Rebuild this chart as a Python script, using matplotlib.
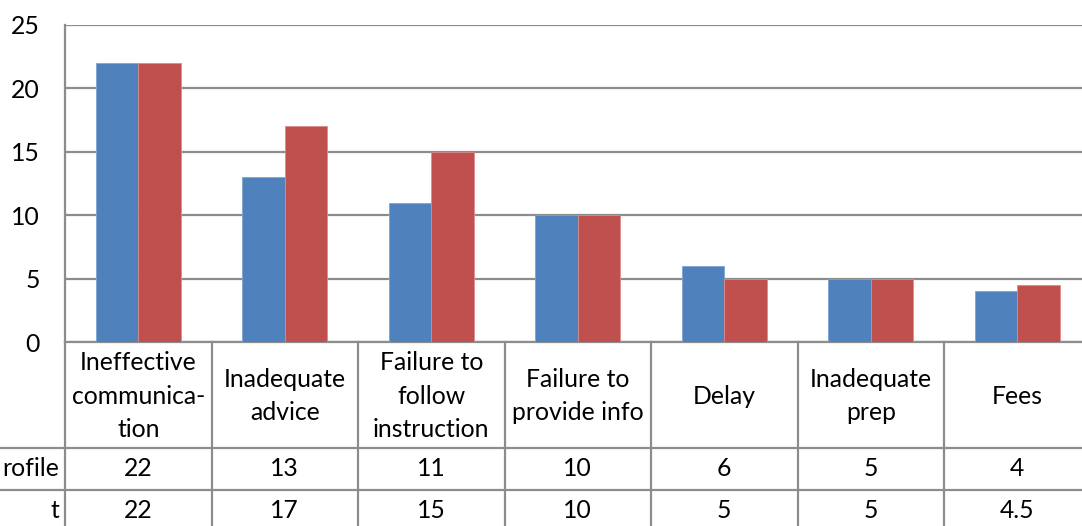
import matplotlib.pyplot as plt
import matplotlib.transforms as mtransforms

plt.rcParams['font.family'] = ['Lato', 'DejaVu Sans']

# data
categories = ["Ineffective\ncommunica-\ntion", "Inadequate\nadvice",
              "Failure to\nfollow\ninstruction", "Failure to\nprovide info",
              "Delay", "Inadequate\nprep", "Fees"]
series_names = ["rofile", "t"]
series_a = [22, 13, 11, 10, 6, 5, 4]
series_b = [22, 17, 15, 10, 5, 5, 4.5]
y_ticks = [0, 5, 10, 15, 20, 25]

blue = "#4F81BD"
red = "#C0504D"
grid_c = "#8C8C8C"
fs = 17.8

W, H = 1082, 526
fig = plt.figure(figsize=(W / 100, H / 100), dpi=100)
left_px, top_px, bottom_px = 65, 25, 342
cat_w = 146.5
ax_w = cat_w * len(categories)
ax = fig.add_axes([left_px / W, 1 - bottom_px / H, ax_w / W, (bottom_px - top_px) / H])

x = list(range(len(categories)))
bw = 0.29
ax.bar([i - bw / 2 for i in x], series_a, width=bw, color=blue, edgecolor="#7FA3CF", linewidth=0.6, zorder=3)
ax.bar([i + bw / 2 for i in x], series_b, width=bw, color=red, edgecolor="#D98C8A", linewidth=0.6, zorder=3)

ax.set_xlim(-0.5, len(categories) - 0.5)
ax.set_ylim(0, 25)
ax.set_yticks(y_ticks)
ax.set_xticks([])
ax.tick_params(axis="y", length=0, pad=18, labelsize=fs)
ax.yaxis.grid(True, color=grid_c, linewidth=1.6)
for s in ["top", "right", "bottom"]:
    ax.spines[s].set_visible(False)
ax.spines["left"].set_color(grid_c)
ax.spines["left"].set_linewidth(1.6)

# data table below the plot
tr = mtransforms.blended_transform_factory(ax.transData, ax.transAxes)
h = bottom_px - top_px
def yfrac(py):
    return (bottom_px - py) / h

lw = 1.6
row_edges = [342, 448, 490, 532]
# horizontal lines
ax.plot([-0.5, len(categories) - 0.5], [0, 0], transform=tr, color=grid_c, lw=lw, clip_on=False)
for py in row_edges[1:]:
    ax.plot([-0.5 - left_px / cat_w, len(categories) - 0.5], [yfrac(py)] * 2, transform=tr,
            color=grid_c, lw=lw, clip_on=False)
# vertical lines
for i in range(len(categories) + 1):
    ax.plot([i - 0.5, i - 0.5], [0, yfrac(532)], transform=tr, color=grid_c, lw=lw, clip_on=False)

for i, lab in enumerate(categories):
    ax.text(i, yfrac(396), lab, transform=tr, ha="center", va="center",
            fontsize=fs, linespacing=1.53, clip_on=False)
    ax.text(i, yfrac(469), f"{series_a[i]:g}", transform=tr, ha="center", va="center",
            fontsize=fs, clip_on=False)
    ax.text(i, yfrac(511), f"{series_b[i]:g}", transform=tr, ha="center", va="center",
            fontsize=fs, clip_on=False)

# row headers (cut off at left edge)
ax.text(-0.5 - 6 / cat_w, yfrac(469), series_names[0], transform=tr, ha="right", va="center",
        fontsize=fs, clip_on=False)
ax.text(-0.5 - 6 / cat_w, yfrac(511), series_names[1], transform=tr, ha="right", va="center",
        fontsize=fs, clip_on=False)

fig.savefig("out.png", dpi=100)
